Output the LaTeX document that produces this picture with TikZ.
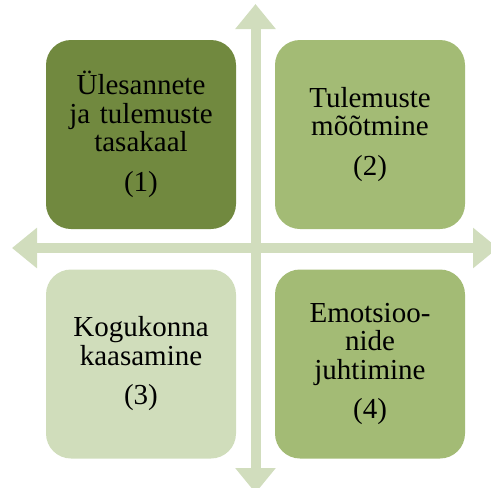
\documentclass[tikz,border=0pt]{standalone}
\usepackage{fontspec}
\setmainfont{Liberation Serif}
\usetikzlibrary{arrows.meta}

\definecolor{olivedark}{HTML}{71893F}
\definecolor{olivemid}{HTML}{A3BB75}
\definecolor{olivelight}{HTML}{D0DDBB}
\definecolor{axisgreen}{HTML}{D1DDBD}

\tikzset{
  quadbox/.style={rounded corners=25pt, minimum width=190pt, minimum height=189pt,
    inner sep=0pt, text width=180pt, align=center, text=black,
    font=\fontsize{29pt}{28.5pt}\selectfont},
  axisarrow/.style={draw=axisgreen, line width=10pt,
    arrows={Triangle[width=39pt,length=25pt,fill=axisgreen]-Triangle[width=39pt,length=25pt,fill=axisgreen]}}
}

\begin{document}
\begin{tikzpicture}[x=1pt, y=-1pt]
  \useasboundingbox (0,0) rectangle (491,488);
  \clip (0,0) rectangle (491,488);

  % axes
  \coordinate (top) at (255.5,4);
  \coordinate (bottom) at (255.5,493);
  \coordinate (left) at (12,248);
  \coordinate (right) at (498,248);
  \draw[axisarrow] (left) -- (right);
  \draw[axisarrow] (bottom) -- (top);

  % quadrants
  \node[quadbox, fill=olivedark] (q1) at (141,134.5)
    {Ülesannete\\ja tulemuste\\tasakaal\\[11pt](1)};
  \node[quadbox, fill=olivemid] (q2) at (370,134.5)
    {Tulemuste\\mõõtmine\\[11pt](2)};
  \node[quadbox, fill=olivelight] (q3) at (141,364)
    {Kogukonna\\kaasamine\\[11pt](3)};
  \node[quadbox, fill=olivemid] (q4) at (370,364)
    {Emotsioo-\\nide\\juhtimine\\[11pt](4)};
\end{tikzpicture}
\end{document}
